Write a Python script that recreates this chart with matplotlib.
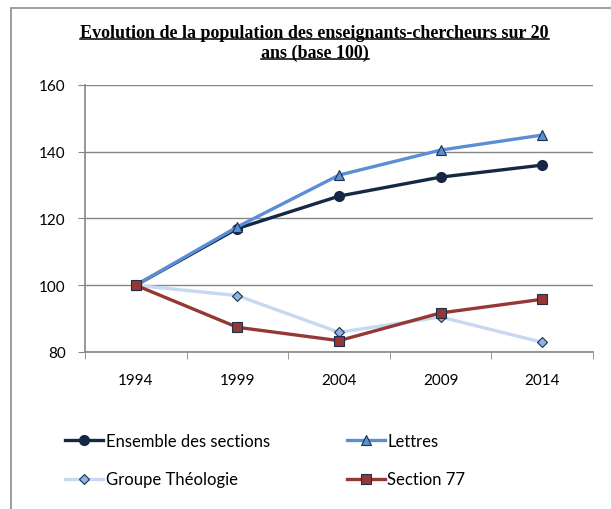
import matplotlib.pyplot as plt
from matplotlib.patches import Rectangle
from matplotlib.lines import Line2D

# data
years = ['1994', '1999', '2004', '2009', '2014']
ensemble = [100, 117.0, 126.7, 132.4, 136.0]
lettres = [100, 117.5, 133.0, 140.5, 145.0]
theologie = [100, 96.9, 85.9, 90.5, 82.9]
section77 = [100, 87.4, 83.4, 91.7, 95.8]

fig = plt.figure(figsize=(6.11, 5.10), dpi=100)
ax = fig.add_axes([85 / 611, 1 - 353 / 510, (593 - 85) / 611, (353 - 86) / 510])

x = range(len(years))
edge = '#1f2f4a'
h1, = ax.plot(x, ensemble, color='#152844', lw=2.4, marker='o', ms=7,
              mfc='#152844', mec='#152844', label='Ensemble des sections', zorder=3)
h2, = ax.plot(x, lettres, color='#5a8fd6', lw=2.4, marker='^', ms=7,
              mfc='#5a8fd6', mec=edge, mew=0.8, label='Lettres', zorder=4)
h3, = ax.plot(x, theologie, color='#c6d9f1', lw=2.4, marker='D', ms=5,
              mfc='#8eb4e3', mec=edge, mew=0.8, label='Groupe Théologie', zorder=2)
h4, = ax.plot(x, section77, color='#953735', lw=2.4, marker='s', ms=6.5,
              mfc='#953735', mec=edge, mew=0.8, label='Section 77', zorder=5)

ax.set_xlim(-0.5, len(years) - 0.5)
ax.set_ylim(80, 160)
ax.set_yticks([80, 100, 120, 140, 160])
ax.set_xticks(list(x))
ax.set_xticklabels(years)
ax.set_xticks([i - 0.5 for i in range(len(years) + 1)], minor=True)
ax.tick_params(axis='x', which='major', length=0, pad=15, labelsize=11)
ax.tick_params(axis='x', which='minor', length=5, color='#868686', direction='out')
ax.tick_params(axis='y', length=5, color='#868686', pad=9, labelsize=11)
for lab in ax.get_xticklabels() + ax.get_yticklabels():
    lab.set_fontfamily('Lato')

ax.grid(axis='y', color='#868686', lw=1)
ax.set_axisbelow(True)
for s in ['top', 'right']:
    ax.spines[s].set_visible(False)
for s in ['left', 'bottom']:
    ax.spines[s].set_color('#868686')
    ax.spines[s].set_linewidth(1.2)

# chart frame (cut off at right and bottom)
fig.patches.append(Rectangle((11 / 611, -0.1), 1.2, 1 - 9 / 510 + 0.1,
                             transform=fig.transFigure, fill=False,
                             ec='#8c8c8c', lw=1.2))

# title with underline
t1 = fig.text(0.515, 1 - 33 / 510, 'Evolution de la population des enseignants-chercheurs sur 20',
              ha='center', va='center', family='Liberation Serif', weight='bold', fontsize=13)
t2 = fig.text(0.515, 1 - 53 / 510, 'ans (base 100)',
              ha='center', va='center', family='Liberation Serif', weight='bold', fontsize=13)
fig.canvas.draw()
r = fig.canvas.get_renderer()
inv = fig.transFigure.inverted()
for t in (t1, t2):
    bb = t.get_window_extent(r)
    (x0, y0), (x1, y1) = inv.transform([[bb.x0, bb.y0], [bb.x1, bb.y1]])
    fig.add_artist(Line2D([x0, x1], [y0 + 0.003, y0 + 0.003], color='black', lw=1.1,
                          transform=fig.transFigure))

# legend fills by column: order so rows read Ensemble/Lettres, Théologie/Section 77
leg = fig.legend([h1, h3, h2, h4], [h.get_label() for h in (h1, h3, h2, h4)],
                 loc='upper left', bbox_to_anchor=(50 / 611, 1 - 419 / 510), ncol=2,
                 frameon=False, prop={'family': 'Lato', 'size': 12},
                 handlelength=2.3, handletextpad=0.15, columnspacing=4.6,
                 labelspacing=1.35)

plt.savefig('out.png', dpi=100)
